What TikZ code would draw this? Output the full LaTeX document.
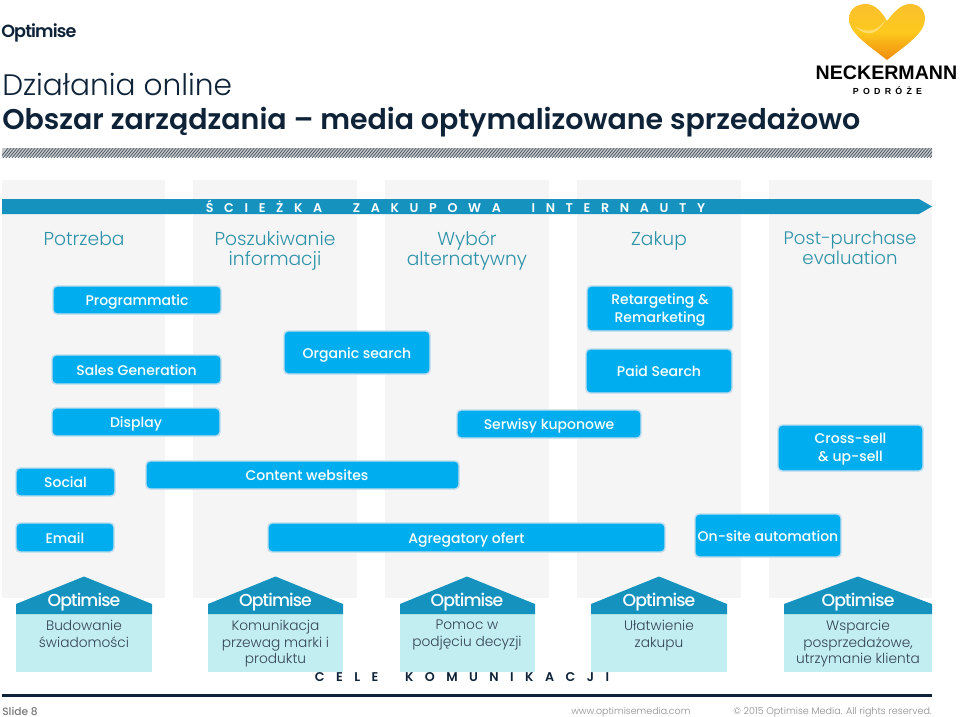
\documentclass[tikz,border=0pt]{standalone}
\usepackage{fontspec}
\setmainfont{Poppins}
\newfontfamily\lightf{Poppins Light}
\newfontfamily\medf{Poppins Medium}
\newfontfamily\semif{Poppins SemiBold}
\newfontfamily\logof[LetterSpace=-5]{Poppins Medium}
\newfontfamily\logosemi[LetterSpace=-5]{Poppins SemiBold}
\newfontfamily\neck{Liberation Sans}
\definecolor{navy}{HTML}{0E2238}
\definecolor{teal}{HTML}{2E93A8}
\definecolor{arrowblue}{HTML}{1593BE}
\definecolor{boxblue}{HTML}{00AEEF}
\definecolor{boxedge}{HTML}{BFDDEE}
\definecolor{colgray}{HTML}{F5F5F6}
\definecolor{bodyblue}{HTML}{C3EEF1}
\definecolor{footgray}{HTML}{8E8E8E}
\definecolor{hearttop}{HTML}{FBC02D}
\definecolor{heartmid}{HTML}{FDC91E}
\definecolor{heartlow}{HTML}{F08A0C}
\newcommand{\fs}[2]{\fontsize{#1}{#2}\selectfont}
\tikzset{
  x=0.75pt,y=-0.75pt,
  mediabox/.style={fill=boxblue,draw=boxedge,line width=1.1pt,rounded corners=3pt},
  medialabel/.style={text=white,align=center,font=\medf\fs{10.5}{13.5},inner sep=0pt,yshift=-1.6pt,
     execute at begin node=\strut,execute at end node=\strut},
  column/.style={fill=colgray,draw=none},
  stagelabel/.style={text=teal,align=center,font=\lightf\fs{14}{15},inner sep=0pt,anchor=north,
     execute at begin node=\strut,execute at end node=\strut},
  roof/.style={fill=arrowblue,draw=none},
  housebody/.style={fill=bodyblue,draw=none},
  goallabel/.style={text=navy!85,align=center,font=\lightf\fs{10.3}{12.4},inner sep=0pt,anchor=north,
     execute at begin node=\strut,execute at end node=\strut},
  rooflogo/.style={text=white,font=\logof\fs{13}{13},inner sep=0pt},
  spaced/.style={font=\semif\fs{9.5}{9.5},inner sep=0pt},
}
\begin{document}
\begin{tikzpicture}
\useasboundingbox (0,0) rectangle (960,717);
\fill[white] (0,0) rectangle (960,717);
% columns
\fill[column] (2,180) rectangle (165,598);
\fill[column] (193,180) rectangle (357,598);
\fill[column] (385,180) rectangle (549,598);
\fill[column] (577,180) rectangle (741,598);
\fill[column] (769,180) rectangle (932,598);
% header
\node[anchor=west,inner sep=0pt,text=navy,font=\logosemi\fs{13.2}{14}] (logo) at (1,33) {Optimise};
\node[anchor=west,inner sep=0pt,text=navy,font=\lightf\fs{22.2}{24}] (t1) at (2,84) {Działania online};
\node[anchor=west,inner sep=0pt,text=navy,font=\semif\fs{21.35}{24}] (t2) at (2,122.5) {Obszar zarządzania – media optymalizowane sprzedażowo};
% hatch bar
\fill[gray!45] (2,148) rectangle (932,157);
\begin{scope}
\clip (2,148) rectangle (932,157);
\foreach \i in {0,3,...,942} \draw[navy!75,line width=0.55pt] (\i,158) -- (\i+9,147);
\end{scope}
% heart logo
\shade[top color=hearttop,bottom color=heartlow,middle color=heartmid]
 (887,60) .. controls (868,45) and (849,33) .. (849,19) .. controls (849,8) and (858,4) .. (866,4)
 .. controls (876,4) and (883,14) .. (887,21) .. controls (893,13) and (901,4) .. (910,4)
 .. controls (920,4) and (925,11) .. (925,19) .. controls (925,33) and (905,46) .. (887,60) -- cycle;
\fill[white,opacity=.35] (855,26) .. controls (870,36) and (880,28) .. (886,19) .. controls (880,32) and (868,40) .. (855,26) -- cycle;
\node[inner sep=0pt,font=\neck\bfseries\fs{14.7}{15}] (nk) at (886.5,72.5) {NECKERMANN};
\node[inner sep=0pt,font=\neck\bfseries\fs{6.6}{7}] (pd) at (887.5,91) {P\hspace{3.2pt}O\hspace{3.2pt}D\hspace{3.2pt}R\hspace{3.2pt}Ó\hspace{3.2pt}Ż\hspace{3.2pt}E};
% arrow
\fill[arrowblue] (2,199) -- (919,199) -- (932,206.5) -- (919,214) -- (2,214) -- cycle;
\node[spaced,text=white] (sc) at (455.5,206.5) {Ś\hspace{8pt}C\hspace{8pt}I\hspace{8pt}E\hspace{8pt}Ż\hspace{8pt}K\hspace{8pt}A\hspace{23pt}Z\hspace{8pt}A\hspace{8pt}K\hspace{8pt}U\hspace{8pt}P\hspace{8pt}O\hspace{8pt}W\hspace{8pt}A\hspace{23pt}I\hspace{8pt}N\hspace{8pt}T\hspace{8pt}E\hspace{8pt}R\hspace{8pt}N\hspace{8pt}A\hspace{8pt}U\hspace{8pt}T\hspace{8pt}Y};
% stages
\node[stagelabel] (s1) at (84,231) {Potrzeba};
\node[stagelabel] (s2) at (275,231) {Poszukiwanie\\informacji};
\node[stagelabel] (s3) at (467,231) {Wybór\\alternatywny};
\node[stagelabel] (s4) at (659,231) {Zakup};
\node[stagelabel,font=\lightf\fs{13.6}{15}] (s5) at (850,231) {Post-purchase\\evaluation};
% media boxes
\foreach \nm/\a/\b/\c/\d/\ox/\tx in {
 b1/53/286/221/314/0/Programmatic,
 b2/52/355/221/384/0/Sales Generation,
 b3/52/408/220/436/0/Display,
 b4/284/331/430/374/0/Organic search,
 b5/16/468/115/496/0/Social,
 b6/146/461/459/489/4.5/Content websites,
 b7/16/523/114/552/0/Email,
 b8/268/523/665/552/0/Agregatory ofert,
 b9/587/286/733/331/0/Retargeting \&\\Remarketing,
 b10/586/349/732/393/0/Paid Search,
 b11/457/410/641/438/0/Serwisy kuponowe,
 b12/778/425/923/471/0/Cross-sell\\\& up-sell,
 b13/695/514/841/557/0/On-site automation}
{
 \draw[mediabox] (\a,\b) rectangle (\c,\d);
 \node[medialabel] (\nm) at ({(\a+\c)/2+\ox},{(\b+\d)/2}) {\tx};
}
% houses
\foreach \hl/\hr/\hm/\nm in {16/152/84/h1,208/343/275.5/h2,400/535/467/h3,591/727/659/h4,784/932/858/h5}
{
 \fill[housebody] (\hl,614) rectangle (\hr,671.5);
 \fill[roof] (\hl,604) -- (\hm,576.5) -- (\hr,604) -- (\hr,614) -- (\hl,614) -- cycle;
 \node[rooflogo] (\nm l) at (\hm,602) {Optimise};
}
\node[goallabel] (h1) at (84,620) {Budowanie\\świadomości};
\node[goallabel] (h2) at (275.5,620) {Komunikacja\\przewag marki i\\produktu};
\node[goallabel] (h3) at (467,620) {Pomoc w\\podjęciu decyzji};
\node[goallabel] (h4) at (659,620) {Ułatwienie\\zakupu};
\node[goallabel] (h5) at (858,620) {Wsparcie\\posprzedażowe,\\utrzymanie klienta};
\node[spaced,text=navy] (cele) at (462,677.5) {C\hspace{8.6pt}E\hspace{8.6pt}L\hspace{8.6pt}E\hspace{20pt}K\hspace{8.6pt}O\hspace{8.6pt}M\hspace{8.6pt}U\hspace{8.6pt}N\hspace{8.6pt}I\hspace{8.6pt}K\hspace{8.6pt}A\hspace{8.6pt}C\hspace{8.6pt}J\hspace{8.6pt}I};
% footer
\fill[navy] (2,694) rectangle (932,697);
\node[anchor=west,inner sep=0pt,text=footgray!85!black,font=\medf\fs{8}{9}] (sl) at (2,711) {Slide 8};
\node[anchor=west,inner sep=0pt,text=footgray,font=\lightf\fs{7.1}{9}] (www) at (571,712) {www.optimisemedia.com};
\node[anchor=east,inner sep=0pt,text=footgray,font=\lightf\fs{7.2}{9}] (cr) at (932,712) {© 2015 Optimise Media.  All rights reserved.};
\end{tikzpicture}
\end{document}
